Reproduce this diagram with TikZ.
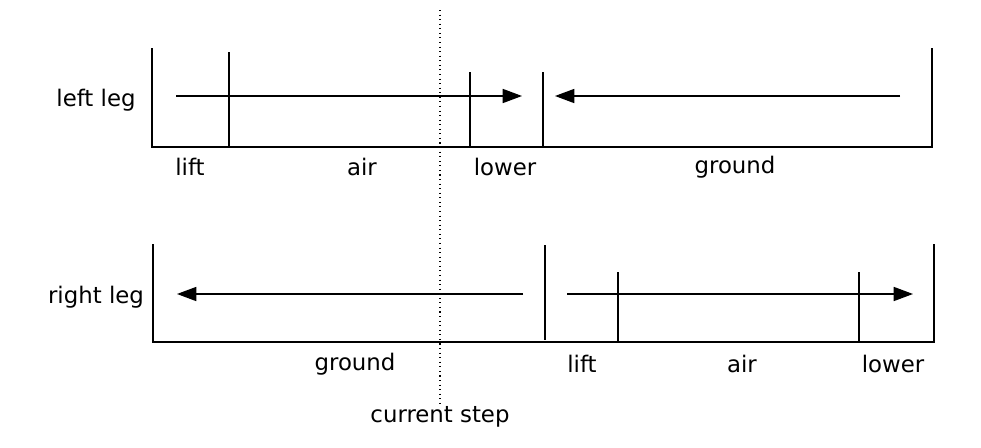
\documentclass[tikz,border=0pt]{standalone}
\usepackage{fontspec}
\setmainfont{DejaVu Sans}
\usetikzlibrary{arrows.meta}
\begin{document}
\begin{tikzpicture}[x=0.02cm,y=-0.02cm,
  ln/.style={line width=0.8pt},
  arr/.style={ln,-{Triangle[length=11pt,width=8pt]}},
  lbl/.style={font=\fontsize{13}{15}\selectfont,inner sep=0pt}]
\useasboundingbox (0,0) rectangle (981,447);
% top row
\draw[ln] (152,48) -- (152,147) -- (932,147) -- (932,48);
\foreach \x/\t in {229/52,470/72,543/72} \draw[ln] (\x,\t) -- (\x,147);
\coordinate (a1) at (176,96); \coordinate (a2) at (522,96);
\coordinate (b1) at (900,96); \coordinate (b2) at (555,96);
\draw[arr] (a1) -- (a2);
\draw[arr] (b1) -- (b2);
\node[lbl] (ll) at (96,100) {left leg};
\node[lbl] (t1) at (190,167) {lift};
\node[lbl] (t2) at (362,167) {air};
\node[lbl] (t3) at (505,167) {lower};
\node[lbl] (t4) at (735,167) {ground};
% bottom row
\draw[ln] (153,244) -- (153,342) -- (934,342) -- (934,244);
\draw[ln] (545,245) -- (545,340);
\foreach \x in {618,859} \draw[ln] (\x,272) -- (\x,342);
\coordinate (c1) at (523,294); \coordinate (c2) at (177,294);
\coordinate (d1) at (567,294); \coordinate (d2) at (913,294);
\draw[arr] (c1) -- (c2);
\draw[arr] (d1) -- (d2);
\node[lbl] (rl) at (96,297) {right leg};
\node[lbl] (u1) at (355,364) {ground};
\node[lbl] (u2) at (582,364) {lift};
\node[lbl] (u3) at (742,364) {air};
\node[lbl] (u4) at (893,364) {lower};
% current step
\node[lbl] (cs) at (440,417) {current step};
\coordinate (top) at (440,10);
\draw[line width=0.6pt,dotted] (top) -- (cs.north);
\end{tikzpicture}
\end{document}
